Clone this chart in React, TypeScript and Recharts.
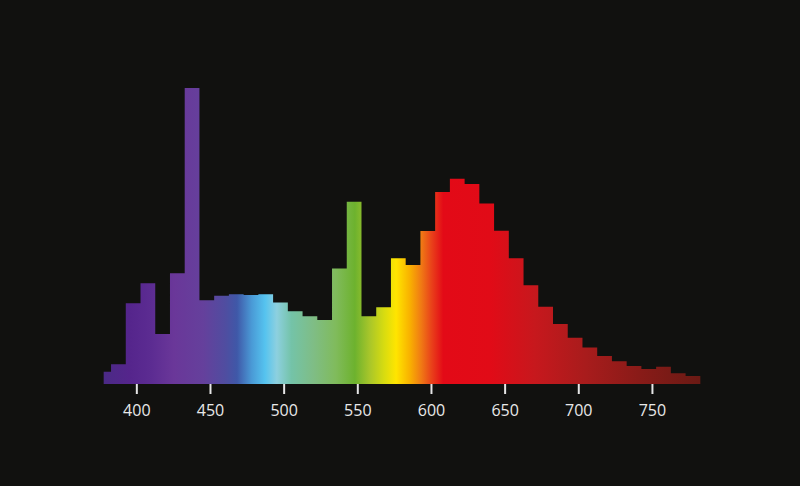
import React from 'react';
import { AreaChart, Area, XAxis, YAxis } from 'recharts';

// bin start wavelengths (nm); first bin is a half bin, last entry closes the final bin
const binEdges = [
  377.5, 382.5, 392.5, 402.5, 412.5, 422.5, 432.5, 442.5, 452.5, 462.5,
  472.5, 482.5, 492.5, 502.5, 512.5, 522.5, 532.5, 542.5, 552.5, 562.5,
  572.5, 582.5, 592.5, 602.5, 612.5, 622.5, 632.5, 642.5, 652.5, 662.5,
  672.5, 682.5, 692.5, 702.5, 712.5, 722.5, 732.5, 742.5, 752.5, 762.5,
  772.5, 782.5,
];

// relative intensity per bin (peak = 100)
const intensity = [
  4.1, 6.7, 27.3, 34.0, 16.9, 37.4, 100, 28.3, 29.8, 30.3,
  30.1, 30.3, 27.5, 24.6, 22.9, 21.6, 39.0, 61.6, 22.9, 25.9,
  42.5, 40.2, 51.7, 64.9, 69.3, 67.6, 61.0, 51.8, 42.5, 33.4,
  26.1, 20.3, 15.6, 12.3, 9.5, 7.7, 6.1, 5.1, 5.8, 3.6,
  2.7, 2.7,
];

const tickValues = [400, 450, 500, 550, 600, 650, 700, 750];

// spectrum colours by wavelength
const spectrumNm = [
  377.5, 395, 410, 425, 445, 460, 468, 478, 487, 495,
  505, 520, 535, 548, 558, 568, 576, 585, 593, 600,
  608, 640, 670, 705, 740, 782.5,
];
const spectrumColors = [
  '#4b2a86', '#55258c', '#5c2c92', '#6a3799', '#65409c', '#504da0', '#3f58a8', '#4a9ad6', '#55c3ef', '#8dd0df',
  '#74c3a8', '#7fbd85', '#80bb5c', '#6db22e', '#a8c62a', '#d8dc10', '#ffe500', '#f9b300', '#f07a14', '#e9421a',
  '#e30a17', '#e10b17', '#c7181d', '#a81c1c', '#8a1b18', '#6a1a14',
];

const data = binEdges.map((nm, i) => ({ nm, value: intensity[i] }));

const first = binEdges[0];
const span = binEdges[binEdges.length - 1] - first;

export default function App() {
  return (
    <div style={{ position: 'fixed', left: 0, top: 0, width: 800, height: 486, background: '#11110f' }}>
      <AreaChart width={800} height={486} data={data} margin={{ top: 88, right: 96, bottom: 62, left: 100 }}>
        <defs>
          <linearGradient id="spectrum" x1="0" y1="0" x2="1" y2="0">
            {spectrumNm.map((nm, i) => (
              <stop key={nm} offset={(nm - first) / span} stopColor={spectrumColors[i]} />
            ))}
          </linearGradient>
        </defs>
        <XAxis
          dataKey="nm"
          type="number"
          domain={[375, 785]}
          ticks={tickValues}
          axisLine={false}
          tickLine={{ stroke: '#e6e6e6', strokeWidth: 2 }}
          tickSize={10}
          tickMargin={11}
          height={40}
          tick={{ fill: '#e8e8e8', fontSize: 16, fontFamily: 'Open Sans' }}
          allowDataOverflow
        />
        <YAxis hide domain={[0, 100]} />
        <Area
          type="stepAfter"
          dataKey="value"
          stroke="none"
          fill="url(#spectrum)"
          fillOpacity={1}
          isAnimationActive={false}
          dot={false}
          activeDot={false}
        />
      </AreaChart>
    </div>
  );
}
